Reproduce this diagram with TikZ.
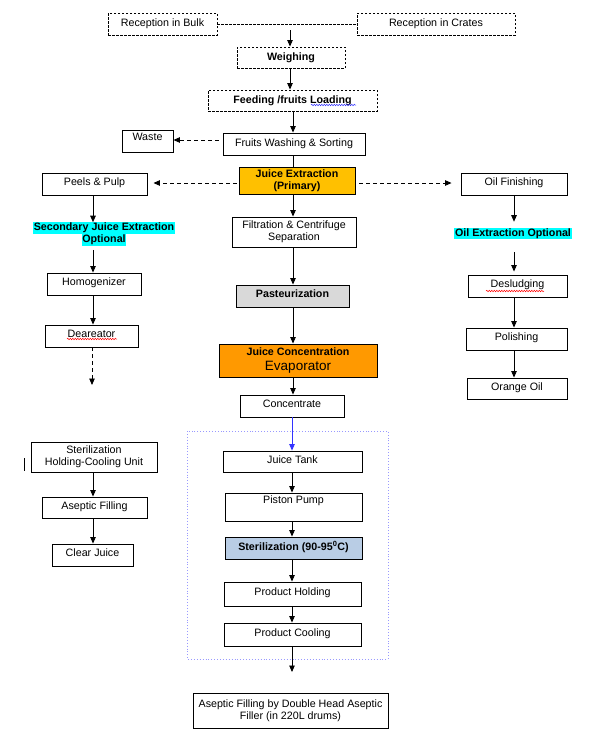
\documentclass[tikz,border=0pt]{standalone}
\usepackage{fontspec}
\setmainfont{Liberation Sans}
\usetikzlibrary{arrows.meta,decorations.pathmorphing}
\definecolor{jeorange}{HTML}{FFC000}
\definecolor{evorange}{HTML}{FF9900}
\definecolor{pastgray}{HTML}{D9D9D9}
\definecolor{sterblue}{HTML}{B9CDE5}
\definecolor{hlcyan}{HTML}{00FFFF}
\definecolor{dotblue}{HTML}{9999FF}
\definecolor{arrblue}{HTML}{3333FF}
\newcommand\mybox[7]{\node[box,#6,minimum width={(#4-#2)*1pt},minimum height={(#5-#3)*1pt}] (#1) at ({(#2+#4)/2},{(#3+#5)/2}) {#7};}
\begin{document}
\begin{tikzpicture}[x=1pt,y=-1pt,
  box/.style={draw=black,line width=0.9pt,inner sep=0pt,align=center,font=\fontsize{10.7}{12}\selectfont},
  dbox/.style={dash pattern=on 2.5pt off 1.5pt},
  bf/.style={font=\fontsize{10.7}{12}\selectfont\bfseries},
  arr/.style={line width=0.9pt,-{Triangle[width=5.5pt,length=6.5pt]}},
  darr/.style={line width=0.9pt,dash pattern=on 4pt off 3pt,-{Triangle[width=5.5pt,length=6.5pt]}},
  hl/.style={fill=hlcyan,inner sep=0.6pt,font=\fontsize{10.7}{11}\selectfont\bfseries},
  squig/.style={line width=0.5pt,decorate,decoration={snake,amplitude=0.7pt,segment length=2.5pt}}]
\useasboundingbox (0,0) rectangle (593,737);
\fill[white] (0,0) rectangle (593,737);
% top
\mybox{bulk}{108}{13}{217}{35}{dbox}{Reception in Bulk}
\mybox{crates}{357}{13}{515}{35}{dbox}{Reception in Crates}
\draw[line width=0.9pt,dash pattern=on 2.5pt off 1.5pt] (bulk) -- (crates);
\mybox{weigh}{237}{47}{345}{68}{dbox,bf}{Weighing}
\mybox{feed}{208}{90}{377}{111}{dbox,bf}{Feeding /fruits Loading}
\mybox{wash}{223}{133}{365}{155}{}{Fruits Washing \& Sorting}
\mybox{waste}{122}{130}{173}{152}{text depth=8pt}{Waste}
\mybox{je}{239}{167}{355}{194}{fill=jeorange,bf}{Juice Extraction\\(Primary)}
\mybox{peels}{42}{173}{147}{195}{text depth=4pt}{Peels \& Pulp}
\mybox{oilf}{461}{173}{567}{195}{text depth=4pt}{Oil Finishing}
\mybox{filt}{232}{217}{356}{247}{}{Filtration \& Centrifuge\\Separation}
\mybox{past}{236}{285}{349}{307}{fill=pastgray,bf,text depth=4pt}{Pasteurization}
\mybox{evap}{219}{344}{377}{377}{fill=evorange}{{\bfseries Juice Concentration}\\[3pt]{\fontsize{13.5}{14}\selectfont Evaporator}}
\mybox{conc}{240}{395}{344}{417}{text depth=4pt}{Concentrate}
% dotted frame
\draw[dotblue,line width=0.9pt,dotted] (187,431) rectangle (388,659);
\mybox{tank}{223}{451}{362}{472}{text depth=4pt}{Juice Tank}
\mybox{pump}{225}{493}{362}{521}{text depth=14pt}{Piston Pump}
\mybox{ster}{225}{537}{362}{559}{fill=sterblue,bf,text depth=4pt}{Sterilization (90-95\textsuperscript{0}C)}
\mybox{hold}{224}{582}{361}{606}{text depth=4pt}{Product Holding}
\mybox{cool}{224}{623}{361}{646}{text depth=4pt}{Product Cooling}
\mybox{filler}{193}{693}{388}{728}{}{Aseptic Filling by Double Head Aseptic\\Filler (in 220L drums)}
% left column
\node[hl] (sec1) at (104,228) {Secondary Juice Extraction};
\node[hl] (sec2) at (104,240) {Optional};
\mybox{homog}{47}{273}{141}{295}{text depth=4pt}{Homogenizer}
\mybox{dear}{45}{325}{138}{347}{text depth=4pt}{Deareator}
\mybox{shcu}{31}{442}{157}{472}{}{Sterilization\\Holding-Cooling Unit}
\mybox{asep}{42}{497}{147}{518}{text depth=4pt}{Aseptic Filling}
\mybox{clear}{52}{544}{133}{566}{text depth=4pt}{Clear Juice}
% right column
\node[hl] (oill) at (513,233.5) {Oil Extraction Optional};
\mybox{deslud}{468}{275}{567}{297}{text depth=4pt}{Desludging}
\mybox{polish}{466}{328}{567}{350}{text depth=4pt}{Polishing}
\mybox{orange}{467}{378}{567}{399}{text depth=4pt}{Orange Oil}
% column coordinates
\coordinate (cx) at (292,0);
\coordinate (cx2) at (293,0);
\coordinate (lx) at (93,0);
\coordinate (rx) at (514,0);
\coordinate (j) at (290,30);
\coordinate (ywa) at (0,140);
\coordinate (yje) at (0,183);
\coordinate (da) at (92,385);
\coordinate (fa) at (292,672);
% central connectors
\draw[arr] (j) -- (weigh.north -| j);
\draw[arr] (weigh.south -| j) -- (feed.north -| j);
\draw[arr] (feed.south -| cx2) -- (wash.north -| cx2);
\draw[line width=0.9pt] (wash.south -| cx2) -- (je.north -| cx2);
\draw[arr] (je.south -| cx2) -- (filt.north -| cx2);
\draw[arr] (filt.south -| cx2) -- (past.north -| cx2);
\draw[arr] (past.south -| cx2) -- (evap.north -| cx2);
\draw[arr] (evap.south -| cx2) -- (conc.north -| cx2);
\draw[arr,arrblue] (conc.south -| cx) -- (tank.north -| cx);
\draw[arr] (tank.south -| cx) -- (pump.north -| cx);
\draw[arr] (pump.south -| cx) -- (ster.north -| cx);
\draw[arr] (ster.south -| cx) -- (hold.north -| cx);
\draw[arr] (hold.south -| cx) -- (cool.north -| cx);
\draw[arr] (cool.south -| cx) -- (fa);
% dashed side connectors
\draw[darr,shorten <=4pt] (wash.west |- ywa) -- (waste.east |- ywa);
\draw[darr,shorten <=2pt,shorten >=6pt] (je.west |- yje) -- (peels.east |- yje);
\draw[darr,shorten <=4pt,shorten >=9pt] (je.east |- yje) -- (oilf.west |- yje);
% left connectors
\draw[arr] (peels.south -| lx) -- (sec1.north -| lx);
\draw[arr,shorten <=4pt] (sec2.south -| lx) -- (homog.north -| lx);
\draw[arr] (homog.south -| lx) -- (dear.north -| lx);
\draw[darr] (dear.south -| da) -- (da);
\draw[arr] (shcu.south -| lx) -- (asep.north -| lx);
\draw[arr] (asep.south -| lx) -- (clear.north -| lx);
% right connectors
\draw[arr,shorten >=6pt] (oilf.south -| rx) -- (oill.north -| rx);
\draw[arr,shorten <=13pt,shorten >=3pt] (oill.south -| rx) -- (deslud.north -| rx);
\draw[arr] (deslud.south -| rx) -- (polish.north -| rx);
\draw[arr] (polish.south -| rx) -- (orange.north -| rx);
% stray mark
\draw[line width=0.9pt] (24,458) -- (24,471);
% spell-check underlines
\draw[squig,red] (67,339) -- (117,339);
\draw[squig,red] (486,291) -- (544,291);
\draw[squig,arrblue] (311,105) -- (356,105);
\end{tikzpicture}
\end{document}
